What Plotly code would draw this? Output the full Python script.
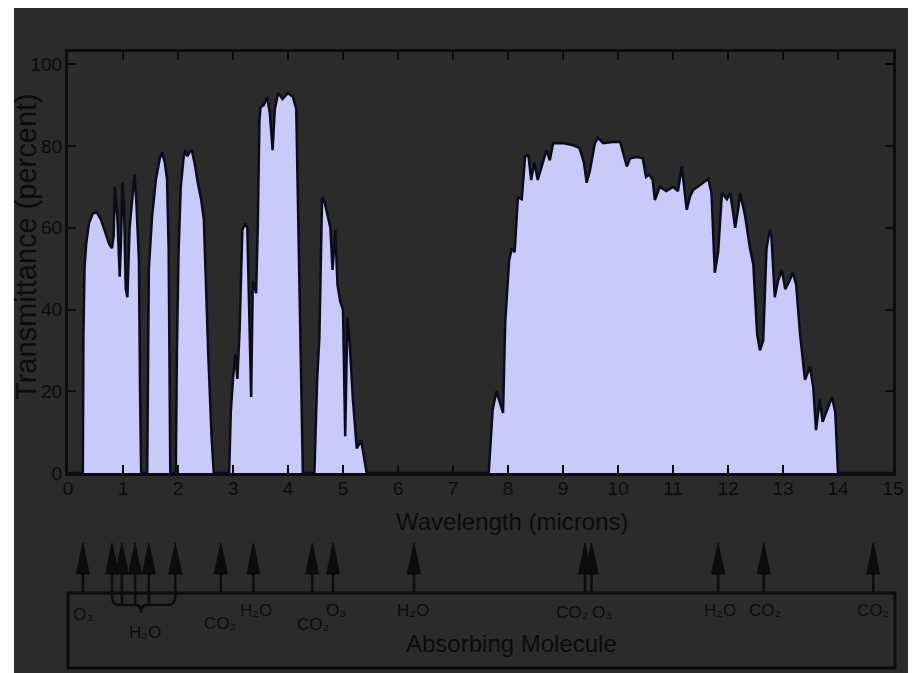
import plotly.graph_objects as go

# ---------------- data ----------------
WAVELENGTH = [
    0.00, 0.25, 0.27, 0.28, 0.30, 0.33, 0.38, 0.45, 0.52, 0.60, 0.68, 0.75, 0.80, 0.83, 0.85, 0.87, 0.90, 0.94,
    0.96, 0.99, 1.02, 1.05, 1.08, 1.12, 1.18, 1.21, 1.24, 1.29, 1.31, 1.33,
    1.44, 1.45, 1.47, 1.53, 1.60, 1.67, 1.71, 1.76, 1.80, 1.83, 1.85, 1.86,
    1.96, 1.98, 2.01, 2.05, 2.10, 2.13, 2.17, 2.21, 2.25, 2.30, 2.36, 2.42, 2.47, 2.51, 2.55, 2.61, 2.65,
    2.93, 2.96, 3.00, 3.04, 3.08, 3.12, 3.17, 3.22, 3.26, 3.29, 3.33, 3.36, 3.42, 3.45, 3.48, 3.50, 3.56, 3.62,
    3.67, 3.72, 3.76, 3.82, 3.90, 4.00, 4.09, 4.15, 4.18, 4.24, 4.27,
    4.48, 4.51, 4.53, 4.57, 4.62, 4.67, 4.73, 4.77, 4.81, 4.86, 4.90, 4.95, 5.00, 5.04, 5.08, 5.12, 5.18, 5.25,
    5.33, 5.43,
    7.65, 7.68, 7.72, 7.79, 7.86, 7.91, 7.95, 8.02, 8.07, 8.12, 8.18, 8.25, 8.31, 8.37, 8.42, 8.48, 8.54, 8.63,
    8.70, 8.76, 8.82, 9.00, 9.18, 9.30, 9.38, 9.43, 9.49, 9.58, 9.64, 9.73, 9.91, 10.04, 10.10, 10.16, 10.22,
    10.34, 10.45, 10.51, 10.57, 10.63, 10.67, 10.76, 10.88, 11.00, 11.09, 11.16, 11.21, 11.25, 11.31, 11.37,
    11.50, 11.64, 11.70, 11.76, 11.82, 11.89, 11.98, 12.04, 12.10, 12.13, 12.19, 12.22, 12.31, 12.40, 12.46,
    12.53, 12.58, 12.64, 12.70, 12.76, 12.79, 12.85, 12.91, 12.98, 13.04, 13.10, 13.18, 13.24, 13.31, 13.40,
    13.49, 13.55, 13.60, 13.67, 13.72, 13.84, 13.89, 13.95, 14.00, 15.00,
]
TRANSMITTANCE = [
    0, 0, 0, 33, 50, 56, 61, 63.5, 63.8, 62, 59, 56, 55, 58, 70, 66, 62, 48,
    55, 71, 64, 45, 43, 60, 70, 73, 67, 52, 20, 0,
    0, 20, 50, 63, 72, 77, 78.5, 76, 72, 55, 20, 0,
    0, 30, 54, 70, 77, 79, 77.5, 78.5, 79, 76, 71, 67, 62, 45, 29, 9, 0,
    0, 15, 23, 29, 23, 35, 59.5, 61, 60, 40, 18.6, 47, 44, 60, 86, 89.5, 90, 92,
    88, 79, 89, 93, 91.5, 93, 92, 89, 66, 29, 0,
    0, 12, 23, 33, 67.5, 66, 62.6, 60, 49.7, 59.5, 46, 42, 40, 9, 38, 32, 18, 6,
    8, 0,
    0, 8, 15.4, 20, 17, 14.7, 37, 52, 55, 54, 67.5, 67, 77.3, 78, 71.7, 76, 71.7, 76,
    79, 76.5, 80.7, 80.7, 80.2, 79.5, 76, 71, 74, 80.7, 82, 80.7, 81, 81, 78, 75, 77,
    77.3, 77, 72.4, 73, 71.7, 66.8, 70, 69, 70, 69, 75, 69, 64.4, 67.7, 69.3,
    70.5, 72, 68.5, 49, 54, 68.5, 67, 68.5, 63, 60, 65, 68.5, 63, 55, 51,
    34, 30, 32.4, 55, 59.5, 58, 43, 47, 49.7, 45, 46.5, 49, 46, 34, 22.8,
    26, 21, 10.5, 18, 12.5, 17, 18.6, 15, 0, 0,
]
X_TICKS = list(range(0, 16))
Y_TICKS = [0, 20, 40, 60, 80, 100]

ARROW_WAVELENGTHS = [0.27, 0.80, 0.98, 1.22, 1.47, 1.95, 2.78, 3.37, 4.44, 4.82, 6.29, 9.40, 9.52, 11.82, 12.65, 14.64]
H2O_GROUP = [0.80, 0.98, 1.22, 1.47, 1.95]

MOLECULE_LABELS = ["O₃", "H₂O", "CO₂", "H₂O", "CO₂", "O₃", "H₂O", "CO₂", "O₃", "H₂O", "CO₂", "CO₂"]
LABEL_WAVELENGTHS = [0.27, 1.40, 2.76, 3.42, 4.45, 4.88, 6.27, 9.16, 9.70, 11.85, 12.67, 14.64]

# ---------------- layout helpers (page pixels -> paper) ----------------
OFF = 8                     # body margin of the html page
PL, PT, PW, PH = 60, 44, 825, 421
FIG_W, FIG_H = 908, 665


def px(xpage):
    return (xpage - OFF - PL) / PW


def py(ypage):
    return (PT + PH - (ypage - OFF)) / PH


LABEL_PAGE_Y = [614, 632, 623, 610, 624, 610, 610, 612, 612, 610, 610, 610]

BG = "#2b2b2b"
INK = "#0c0c0c"
FONT = "Liberation Sans, Arial, sans-serif"

fig = go.Figure()
fig.add_trace(go.Scatter(
    x=WAVELENGTH, y=TRANSMITTANCE, mode="lines", fill="tozeroy",
    fillcolor="#c9c9fa", line=dict(color="#0b0b1c", width=2.5),
    hoverinfo="skip", showlegend=False,
))

shapes = []
# white strip at left edge of the picture
shapes.append(dict(type="rect", xref="paper", yref="paper", x0=px(0), x1=px(14), y0=py(700), y1=py(0),
                   fillcolor="white", line=dict(width=0), layer="below"))

# arrows
head_top, head_base, stem_end, brace_y = py(543), py(574), py(593), py(605)
half_w = 6.5 / 55.0
for wl in ARROW_WAVELENGTHS:
    end = stem_end
    if wl in H2O_GROUP:
        end = py(596) if wl in (H2O_GROUP[0], H2O_GROUP[-1]) else brace_y
    shapes.append(dict(type="line", xref="x", yref="paper", x0=wl, x1=wl, y0=head_base + 0.005, y1=end,
                       line=dict(color=INK, width=2.5)))
    shapes.append(dict(type="path", xref="x", yref="paper",
                       path=f"M {wl - half_w} {head_base} L {wl} {head_top} L {wl + half_w} {head_base} Z",
                       fillcolor=INK, line=dict(color=INK, width=1)))

# brace under the H2O group
a, b = H2O_GROUP[0], H2O_GROUP[-1]
c = 1.33
ytop, ymid, ytip = py(596), brace_y, py(613)
brace_path = (f"M {a} {ytop} Q {a} {ymid} {a + 0.12} {ymid} L {c - 0.1} {ymid} "
              f"Q {c} {ymid} {c} {ytip} Q {c} {ymid} {c + 0.1} {ymid} "
              f"L {b - 0.12} {ymid} Q {b} {ymid} {b} {ytop}")
shapes.append(dict(type="path", xref="x", yref="paper", path=brace_path,
                   line=dict(color=INK, width=2.5)))

# "Absorbing Molecule" box
shapes.append(dict(type="rect", xref="paper", yref="paper", x0=px(68), x1=px(895), y0=py(668), y1=py(593),
                   line=dict(color=INK, width=3), fillcolor="rgba(0,0,0,0)"))

annotations = []
for lab, wl, yy in zip(MOLECULE_LABELS, LABEL_WAVELENGTHS, LABEL_PAGE_Y):
    annotations.append(dict(x=wl, y=py(yy), xref="x", yref="paper", text=lab, showarrow=False,
                            xanchor="center", yanchor="middle", font=dict(family=FONT, size=17, color=INK)))
annotations.append(dict(x=px(512), y=py(521), xref="paper", yref="paper", text="Wavelength (microns)",
                        showarrow=False, xanchor="center", yanchor="middle",
                        font=dict(family=FONT, size=24, color=INK)))
annotations.append(dict(x=px(511), y=py(643), xref="paper", yref="paper", text="Absorbing Molecule",
                        showarrow=False, xanchor="center", yanchor="middle",
                        font=dict(family=FONT, size=24, color=INK)))
annotations.append(dict(x=px(26), y=py(247), xref="paper", yref="paper", text="Transmittance (percent)",
                        showarrow=False, xanchor="center", yanchor="middle", textangle=-90,
                        font=dict(family=FONT, size=29, color=INK)))

axis_common = dict(showline=True, linecolor=INK, linewidth=3, mirror="ticks", ticks="inside",
                   ticklen=8, tickwidth=2, tickcolor=INK, showgrid=False, zeroline=False,
                   tickfont=dict(family=FONT, size=19, color=INK))

fig.update_layout(
    width=FIG_W, height=FIG_H, autosize=False,
    margin=dict(l=PL, r=FIG_W - PL - PW, t=PT, b=FIG_H - PT - PH, pad=0),
    paper_bgcolor=BG, plot_bgcolor=BG,
    xaxis=dict(range=[0, 15], tickvals=X_TICKS, ticktext=[str(v) for v in X_TICKS],
               ticklabelstandoff=-4, **axis_common),
    yaxis=dict(range=[0, 103], tickvals=Y_TICKS, ticktext=[str(v) for v in Y_TICKS],
               ticklabelstandoff=-1, **axis_common),
    shapes=shapes, annotations=annotations, showlegend=False,
)

fig.write_html("out.html")
